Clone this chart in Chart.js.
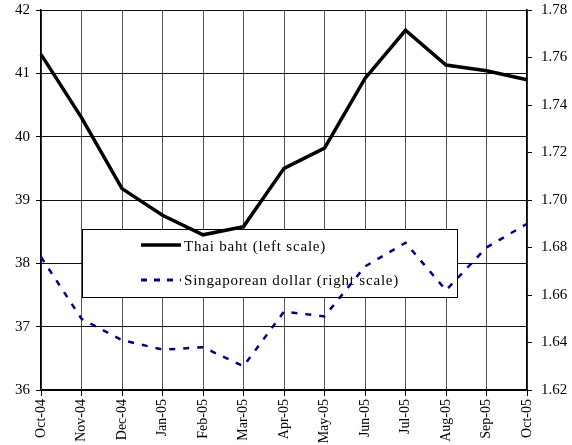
<!DOCTYPE html>
<html>
<head>
<meta charset="utf-8">
<script src="https://cdn.jsdelivr.net/npm/chart.js@4"></script>
<style>
  html, body { margin: 0; padding: 0; background: #fff; }
  #wrap { width: 572px; height: 445px; }
</style>
</head>
<body>
<div id="wrap"><canvas id="fx"></canvas></div>
<script>
const months = ['Oct-04', 'Nov-04', 'Dec-04', 'Jan-05', 'Feb-05', 'Mar-05', 'Apr-05',
                'May-05', 'Jun-05', 'Jul-05', 'Aug-05', 'Sep-05', 'Oct-05'];
const thaiBaht = [41.30, 40.30, 39.18, 38.76, 38.45, 38.58, 39.50, 39.82, 40.92, 41.68, 41.13, 41.04, 40.90];
const singDollar = [1.676, 1.650, 1.641, 1.637, 1.638, 1.630, 1.653, 1.651, 1.672, 1.682, 1.662, 1.680, 1.690];
const leftTicks = [36, 37, 38, 39, 40, 41, 42];
const rightTicks = [1.62, 1.64, 1.66, 1.68, 1.70, 1.72, 1.74, 1.76, 1.78];

const serif = "'Liberation Serif', 'DejaVu Serif', serif";

// legend box sits inside the plot, under the lines
const boxLegend = {
    id: 'boxLegend',
    beforeDatasetsDraw(chart) {
        const ctx = chart.ctx;
        const x0 = 82, y0 = 229, w = 375, h = 68;
        ctx.save();
        ctx.fillStyle = '#fff';
        ctx.fillRect(x0, y0, w, h);
        ctx.strokeStyle = '#000';
        ctx.lineWidth = 1;
        ctx.strokeRect(x0 + 0.5, y0 + 0.5, w, h);

        ctx.font = '15px ' + serif;
        ctx.letterSpacing = '0.8px';
        ctx.textBaseline = 'middle';
        ctx.fillStyle = '#000';

        // Thai baht
        ctx.beginPath();
        ctx.lineWidth = 3.5;
        ctx.strokeStyle = '#000';
        ctx.moveTo(141, 245);
        ctx.lineTo(181, 245);
        ctx.stroke();
        ctx.fillText('Thai baht (left scale)', 184, 247);

        // Singaporean dollar
        ctx.beginPath();
        ctx.lineWidth = 3;
        ctx.strokeStyle = '#000080';
        ctx.setLineDash([6, 7]);
        ctx.moveTo(141, 280);
        ctx.lineTo(181, 280);
        ctx.stroke();
        ctx.setLineDash([]);
        ctx.fillText('Singaporean dollar (right scale)', 184, 281);
        ctx.restore();
    }
};

// fixed axis sizes so the plot area lines up with the original
const fitY = w => s => { s.width = w; s.paddingTop = 0; s.paddingBottom = 0; };

new Chart(document.getElementById('fx'), {
    type: 'line',
    data: {
        labels: months,
        datasets: [{
            label: 'Thai baht (left scale)',
            data: thaiBaht,
            yAxisID: 'y',
            borderColor: '#000',
            borderWidth: 3.5,
            pointRadius: 0,
            tension: 0,
            fill: false
        }, {
            label: 'Singaporean dollar (right scale)',
            data: singDollar,
            yAxisID: 'y1',
            borderColor: '#000080',
            borderWidth: 2.5,
            borderDash: [6, 8],
            pointRadius: 0,
            tension: 0,
            fill: false
        }]
    },
    options: {
        responsive: true,
        maintainAspectRatio: false,
        animation: false,
        layout: { padding: { top: 10, right: 0, left: 2, bottom: 0 } },
        plugins: {
            legend: { display: false },
            tooltip: { enabled: false }
        },
        scales: {
            x: {
                offset: false,
                afterFit: s => { s.height = 55; s.paddingLeft = 0; s.paddingRight = 0; },
                grid: { color: '#555', lineWidth: 1, tickLength: 6, tickColor: '#000' },
                border: { color: '#000', width: 1.5 },
                ticks: {
                    color: '#000',
                    font: { family: serif, size: 14 },
                    maxRotation: 90,
                    minRotation: 90,
                    autoSkip: false,
                    padding: 3
                }
            },
            y: {
                position: 'left',
                min: 36,
                max: 42,
                afterBuildTicks: axis => { axis.ticks = leftTicks.map(v => ({ value: v })); },
                afterFit: fitY(39),
                grid: { color: '#111', lineWidth: 1, tickLength: 5, tickColor: '#000' },
                border: { color: '#000', width: 1.5 },
                ticks: { color: '#000', font: { family: serif, size: 15 }, padding: 6 }
            },
            y1: {
                position: 'right',
                min: 1.62,
                max: 1.78,
                afterBuildTicks: axis => { axis.ticks = rightTicks.map(v => ({ value: v })); },
                afterFit: fitY(45),
                grid: { drawOnChartArea: false, tickLength: 5, tickColor: '#000' },
                border: { color: '#000', width: 1.5 },
                ticks: {
                    color: '#000',
                    font: { family: serif, size: 15 },
                    padding: 9,
                    callback: v => v.toFixed(2)
                }
            }
        }
    },
    plugins: [boxLegend]
});
</script>
</body>
</html>
